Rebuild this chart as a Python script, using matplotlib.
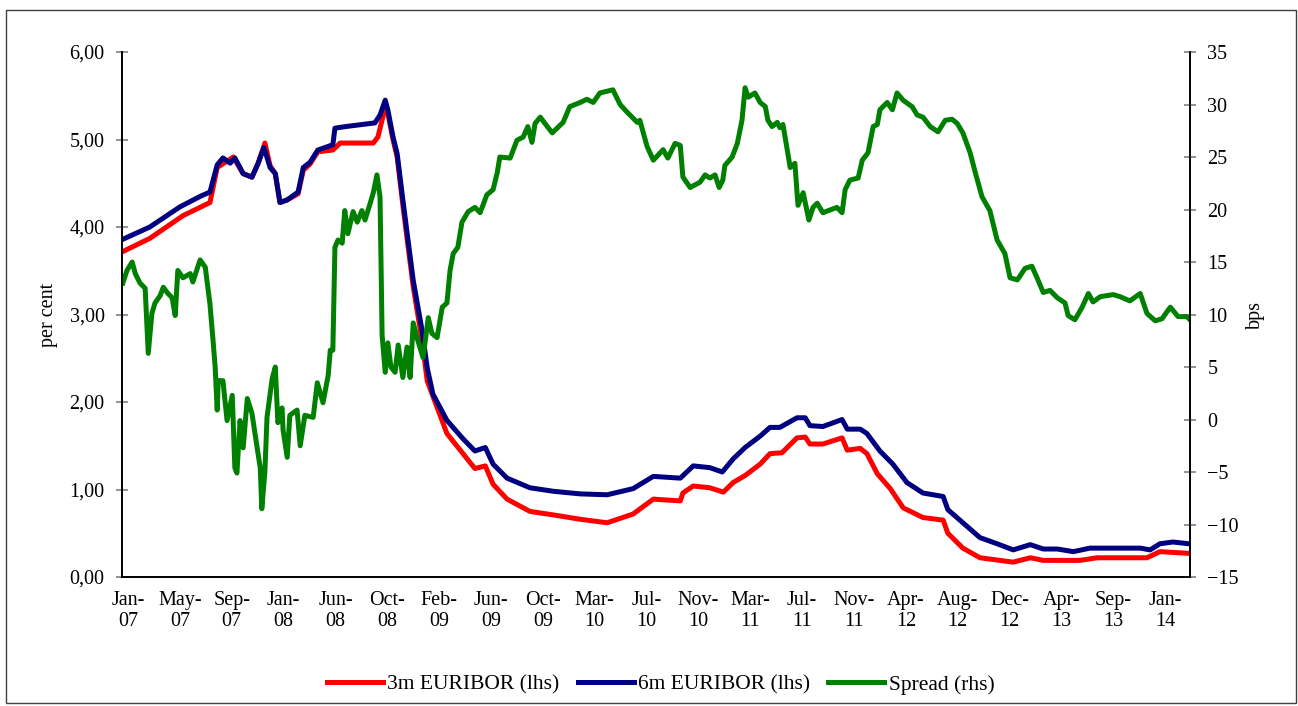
import matplotlib
matplotlib.use("Agg")
import matplotlib.pyplot as plt
from matplotlib.patches import Rectangle
from matplotlib.ticker import FuncFormatter

plt.rcParams['font.family'] = ['Liberation Serif', 'DejaVu Serif']

# x positions are in units of the label interval (0 = Jan-07, 20 = Jan-14)
tick_labels = ["Jan-\n07", "May-\n07", "Sep-\n07", "Jan-\n08", "Jun-\n08", "Oct-\n08",
               "Feb-\n09", "Jun-\n09", "Oct-\n09", "Mar-\n10", "Jul-\n10", "Nov-\n10",
               "Mar-\n11", "Jul-\n11", "Nov-\n11", "Apr-\n12", "Aug-\n12", "Dec-\n12",
               "Apr-\n13", "Sep-\n13", "Jan-\n14"]

eur6m_pos = [-0.10, 0.42, 1.00, 1.39, 1.58, 1.72, 1.83, 1.97, 2.06, 2.22, 2.39, 2.51, 2.62,
             2.74, 2.84, 2.93, 3.07, 3.28, 3.38, 3.51, 3.66, 3.95, 3.99, 4.22, 4.76, 4.86,
             4.96, 5.01, 5.11, 5.19, 5.30, 5.40, 5.50, 5.67, 5.77, 5.88, 6.15, 6.46, 6.69,
             6.89, 7.04, 7.31, 7.75, 8.20, 8.72, 9.24, 9.74, 10.13, 10.65, 10.90, 11.22,
             11.46, 11.67, 11.90, 12.19, 12.38, 12.57, 12.90, 13.06, 13.15, 13.40, 13.77,
             13.87, 14.12, 14.25, 14.50, 14.75, 15.02, 15.33, 15.72, 15.81, 16.10, 16.43,
             16.76, 17.07, 17.40, 17.65, 17.92, 18.23, 18.55, 19.52, 19.71, 19.90, 20.15, 20.46]
eur6m = [3.86, 4.00, 4.23, 4.35, 4.40, 4.71, 4.79, 4.73, 4.79, 4.61, 4.57, 4.73, 4.91,
         4.68, 4.61, 4.28, 4.31, 4.40, 4.68, 4.74, 4.88, 4.94, 5.13, 5.15, 5.19, 5.28,
         5.45, 5.34, 5.03, 4.84, 4.31, 3.85, 3.39, 2.82, 2.39, 2.09, 1.79, 1.58, 1.44,
         1.48, 1.29, 1.13, 1.02, 0.98, 0.95, 0.94, 1.01, 1.15, 1.13, 1.27, 1.25,
         1.20, 1.35, 1.48, 1.61, 1.71, 1.71, 1.82, 1.82, 1.73, 1.72, 1.80,
         1.69, 1.69, 1.64, 1.44, 1.29, 1.08, 0.96, 0.92, 0.77, 0.62, 0.45,
         0.38, 0.31, 0.37, 0.32, 0.32, 0.29, 0.33, 0.33, 0.31, 0.38, 0.40, 0.38]

eur3m_pos = [-0.10, 0.42, 1.06, 1.58, 1.72, 2.03, 2.22, 2.39, 2.51, 2.64, 2.74, 2.84, 2.93,
             3.07, 3.28, 3.38, 3.51, 3.66, 3.95, 4.09, 4.73, 4.82, 4.96, 5.01, 5.11, 5.19,
             5.30, 5.40, 5.50, 5.67, 5.77, 6.15, 6.46, 6.69, 6.89, 7.04, 7.31, 7.75, 8.20,
             8.72, 9.24, 9.74, 10.13, 10.65, 10.70, 10.90, 11.22, 11.48, 11.67, 11.90, 12.19,
             12.38, 12.61, 12.90, 13.06, 13.15, 13.40, 13.77, 13.87, 14.12, 14.25, 14.45,
             14.70, 14.95, 15.33, 15.72, 15.81, 16.10, 16.43, 17.07, 17.40, 17.65, 18.36,
             18.69, 19.65, 19.90, 20.46]
eur3m = [3.72, 3.87, 4.13, 4.28, 4.68, 4.80, 4.61, 4.57, 4.73, 4.96, 4.70, 4.61, 4.28,
         4.31, 4.38, 4.65, 4.72, 4.86, 4.88, 4.96, 4.96, 5.03, 5.37, 5.30, 5.00, 4.80,
         4.25, 3.78, 3.32, 2.70, 2.24, 1.64, 1.41, 1.24, 1.27, 1.06, 0.89, 0.75, 0.71,
         0.66, 0.62, 0.72, 0.89, 0.87, 0.96, 1.04, 1.02, 0.97, 1.08, 1.16, 1.29,
         1.41, 1.42, 1.59, 1.60, 1.52, 1.52, 1.59, 1.45, 1.47, 1.41, 1.18,
         1.01, 0.79, 0.68, 0.65, 0.50, 0.33, 0.22, 0.17, 0.22, 0.19, 0.19,
         0.22, 0.22, 0.29, 0.27]

spread_pos = [-0.10, -0.02, 0.08, 0.14, 0.23, 0.33, 0.39, 0.46, 0.52, 0.62, 0.68, 0.77,
              0.85, 0.91, 0.96, 1.06, 1.20, 1.25, 1.39, 1.49, 1.58, 1.64, 1.68, 1.72, 1.74,
              1.83, 1.91, 2.01, 2.06, 2.10, 2.16, 2.22, 2.30, 2.39, 2.49, 2.55, 2.58, 2.64,
              2.68, 2.78, 2.84, 2.89, 2.97, 2.99, 3.07, 3.12, 3.26, 3.32, 3.41, 3.57, 3.65,
              3.76, 3.86, 3.90, 3.95, 3.99, 4.05, 4.13, 4.18, 4.24, 4.34, 4.42, 4.51, 4.57,
              4.67, 4.73, 4.80, 4.86, 4.90, 4.96, 5.01, 5.07, 5.15, 5.21, 5.30, 5.38, 5.44,
              5.50, 5.59, 5.69, 5.79, 5.86, 5.96, 6.06, 6.15, 6.21, 6.27, 6.36, 6.44, 6.56,
              6.69, 6.79, 6.92, 7.04, 7.12, 7.17, 7.37, 7.50, 7.62, 7.71, 7.79, 7.85, 7.95,
              8.04, 8.18, 8.39, 8.52, 8.72, 8.85, 8.97, 9.10, 9.35, 9.49, 9.62, 9.82, 9.87,
              10.01, 10.13, 10.32, 10.41, 10.55, 10.65, 10.70, 10.84, 11.03, 11.13, 11.22,
              11.32, 11.40, 11.47, 11.51, 11.65, 11.75, 11.84, 11.90, 11.96, 12.09, 12.19,
              12.29, 12.34, 12.42, 12.52, 12.57, 12.63, 12.77, 12.86, 12.92, 13.02, 13.13,
              13.21, 13.29, 13.40, 13.67, 13.77, 13.83, 13.92, 14.08, 14.16, 14.27, 14.37,
              14.45, 14.50, 14.64, 14.74, 14.83, 14.95, 15.12, 15.22, 15.33, 15.47, 15.62,
              15.76, 15.89, 15.99, 16.10, 16.24, 16.34, 16.47, 16.62, 16.76, 16.91, 17.01,
              17.15, 17.30, 17.43, 17.53, 17.65, 17.78, 17.92, 18.07, 18.13, 18.26, 18.40,
              18.52, 18.61, 18.75, 19.00, 19.13, 19.32, 19.52, 19.65, 19.81, 19.94, 20.10,
              20.25, 20.42, 20.46]
spread = [13.0, 14.2, 15.0, 13.9, 13.0, 12.5, 6.3, 10.1, 11.1, 11.8, 12.6, 12.0,
          11.6, 9.9, 14.2, 13.5, 13.9, 13.1, 15.2, 14.5, 11.0, 7.5, 5.0, 0.9, 3.7,
          3.7, -0.1, 2.3, -4.6, -5.1, -0.1, -2.7, 2.0, 0.6, -2.7, -4.6, -8.5, -4.9,
          0.2, 3.9, 5.0, -0.3, 1.1, -1.0, -3.6, 0.4, 0.9, -2.5, 0.4, 0.2, 3.5,
          1.6, 4.2, 6.6, 6.6, 16.4, 17.1, 16.8, 19.9, 17.7, 19.8, 18.8, 19.9, 19.0,
          20.6, 21.6, 23.3, 21.2, 8.0, 4.5, 7.3, 5.0, 4.5, 7.1, 4.0, 6.9, 4.0,
          9.2, 7.5, 5.9, 9.7, 8.2, 7.8, 10.7, 11.1, 14.2, 15.8, 16.4, 18.8, 19.8,
          20.2, 19.7, 21.4, 21.9, 23.5, 25.0, 24.9, 26.6, 26.9, 27.9, 26.4, 28.2, 28.8,
          28.2, 27.3, 28.3, 29.8, 30.2, 30.5, 30.2, 31.1, 31.4, 30.0, 29.3, 28.3, 28.5,
          26.0, 24.7, 25.7, 24.9, 26.3, 26.1, 23.1, 22.1, 22.6, 23.3, 23.0,
          23.3, 22.1, 22.8, 24.2, 25.0, 26.3, 28.5, 31.6, 30.7, 31.1, 30.2,
          29.8, 28.5, 27.9, 28.3, 27.8, 28.1, 24.0, 24.4, 20.4, 21.6, 19.0,
          20.2, 20.6, 19.7, 20.2, 19.7, 21.9, 22.8, 23.0, 24.7, 25.4, 27.9,
          28.1, 29.5, 30.2, 29.5, 31.1, 30.4, 29.8, 29.0, 28.8, 27.9, 27.4,
          28.5, 28.6, 28.2, 27.3, 25.4, 23.5, 21.2, 19.9, 17.1, 15.8, 13.5,
          13.3, 14.4, 14.6, 13.5, 12.1, 12.3, 11.6, 11.1, 9.9, 9.5, 10.7,
          12.0, 11.2, 11.7, 11.9, 11.7, 11.3, 12.0, 10.1, 9.4, 9.6, 10.7,
          9.8, 9.8, 9.6]

fig = plt.figure(figsize=(12.98, 7.06), dpi=100)
ax = fig.add_axes([0.094, 0.1827, 0.8228, 0.7436])
ax2 = ax.twinx()

l1, = ax.plot(eur3m_pos, eur3m, color='#FF0000', lw=3.6, solid_joinstyle='round',
              label='3m EURIBOR (lhs)')
l2, = ax.plot(eur6m_pos, eur6m, color='#000080', lw=3.6, solid_joinstyle='round',
              label='6m EURIBOR (lhs)')
l3, = ax2.plot(spread_pos, spread, color='#008000', lw=3.6, solid_joinstyle='round',
               label='Spread (rhs)')

ax.set_xlim(-0.116, 20.48)
ax.set_ylim(0, 6)
ax2.set_ylim(-15, 35)
ax.set_yticks([0, 1, 2, 3, 4, 5, 6])
ax2.set_yticks(range(-15, 36, 5))
ax.yaxis.set_major_formatter(FuncFormatter(lambda v, p: f"{v:.2f}".replace('.', ',')))
ax.set_xticks(range(len(tick_labels)))
ax.set_xticklabels(tick_labels, linespacing=1.15)

for a in (ax, ax2):
    a.spines['top'].set_visible(False)
    for s in ('left', 'right', 'bottom'):
        a.spines[s].set_color('black')
        a.spines[s].set_linewidth(1.2)
ax.tick_params(axis='y', direction='inout', length=9, color='#808080', width=1.2,
               labelsize=14.5, pad=8)
ax2.tick_params(axis='y', direction='inout', length=9, color='#808080', width=1.2,
                labelsize=14.5, pad=8)
ax.tick_params(axis='x', length=0, labelsize=14.5, pad=10)

ax.set_ylabel('per cent', fontsize=14.5, labelpad=8)
ax2.set_ylabel('bps', fontsize=14.5, labelpad=5)

fig.legend(handles=[l1, l2, l3], loc='center', bbox_to_anchor=(0.509, 0.03), ncol=3,
           frameon=False, fontsize=15.5, handlelength=2.6, handletextpad=0.2,
           columnspacing=0.85)

fig.patches.append(Rectangle((0.0046, 0.004), 0.994, 0.982, transform=fig.transFigure,
                             fill=False, edgecolor='#404040', lw=1.0))

fig.savefig('out.png', dpi=100)
